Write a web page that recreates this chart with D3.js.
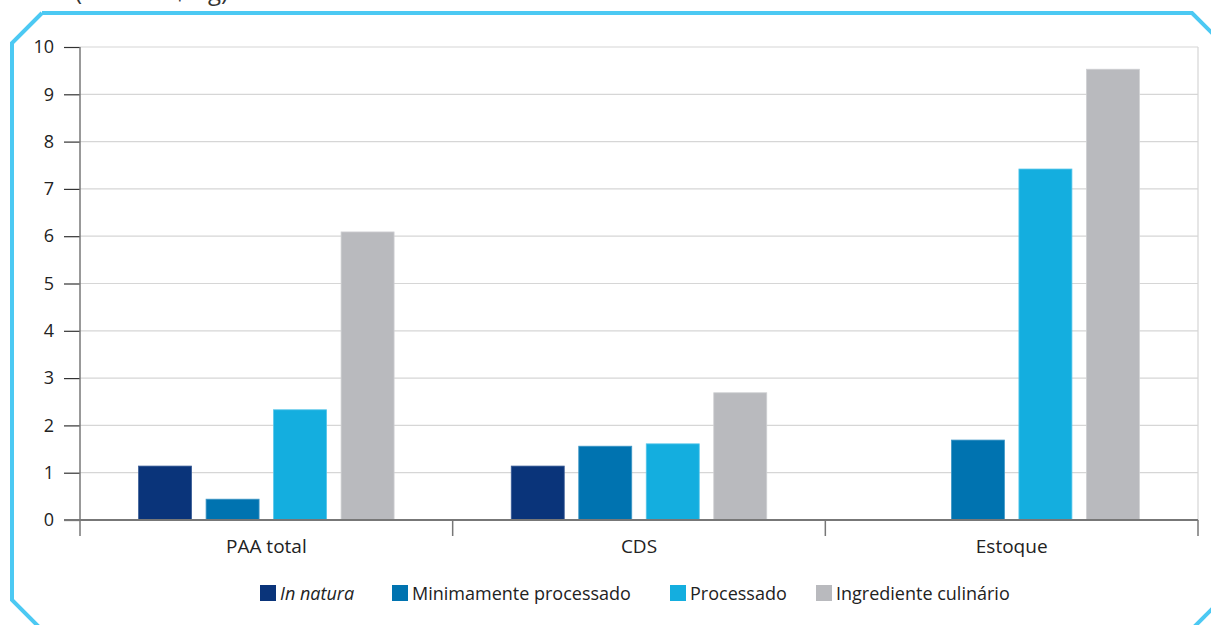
<!DOCTYPE html>
<html><head><meta charset="utf-8">
<script src="https://cdn.jsdelivr.net/npm/d3@7"></script>
<style>
html,body{margin:0;padding:0;background:#fff;}
svg{display:block;font-family:"Open Sans","Noto Sans",sans-serif;}
</style></head>
<body>
<svg id="c" width="1211" height="625"></svg>
<script>
const categories = ["PAA total", "CDS", "Estoque"];
const seriesNames = ["In natura", "Minimamente processado", "Processado", "Ingrediente culinário"];
const inNatura = [1.14, 1.14, null];
const minimamente = [0.44, 1.56, 1.69];
const processado = [2.33, 1.61, 7.42];
const ingrediente = [6.09, 2.69, 9.53];
const yTicks = [0, 1, 2, 3, 4, 5, 6, 7, 8, 9, 10];
const colors = ["#0a347a", "#0073b0", "#14aedf", "#b9babe"];
const strokes = ["#3a5c96", "#3f97c6", "#56c6ea", "#cfd0d3"];
const seriesValues = [inNatura, minimamente, processado, ingrediente];

(function(){
const svg = d3.select("#c");

// frame
svg.append("polyline").attr("points", [[42,13],[1192,13],[1213,34]].map(p=>p.join(",")).join(" "))
  .attr("fill","none").attr("stroke","#4cc9f3").attr("stroke-width",4);
svg.append("polyline").attr("points", [[42,13],[12,43],[12,600],[40,628]].map(p=>p.join(",")).join(" "))
  .attr("fill","none").attr("stroke","#4cc9f3").attr("stroke-width",4).attr("stroke-linejoin","miter");
svg.append("line").attr("x1",1193).attr("y1",628).attr("x2",1214).attr("y2",607)
  .attr("stroke","#4cc9f3").attr("stroke-width",4);

// cropped title (cut off at the top edge, as in the source image)
svg.append("text").attr("x",75).attr("y",0).attr("font-size",24).attr("fill","#333")
  .text("(média R$/kg)");

const pL = 80, pR = 1198, pT = 47, pB = 520;
const y = d3.scaleLinear().domain([0,10]).range([pB, pT]);
const x0 = d3.scaleBand().domain(categories).range([pL, pR]).padding(0);
const x1 = d3.scaleBand().domain(seriesNames).range([0, x0.bandwidth()])
  .paddingInner(0.215).paddingOuter(0.868);

// grid
svg.append("g").selectAll("line").data(yTicks.filter(d=>d>0)).join("line")
  .attr("x1",pL).attr("x2",pR).attr("y1",d=>y(d)).attr("y2",d=>y(d))
  .attr("stroke","#d6d6d6").attr("stroke-width",1.2);
svg.append("line").attr("x1",pR).attr("x2",pR).attr("y1",pT).attr("y2",pB)
  .attr("stroke","#d6d6d6").attr("stroke-width",1.2);

// bars
const data = [];
categories.forEach((c,i)=>seriesNames.forEach((s,j)=>{
  const v = seriesValues[j][i];
  if (v !== null) data.push({c, s, v, j});
}));
svg.append("g").selectAll("rect").data(data).join("rect")
  .attr("x", d=>x0(d.c)+x1(d.s)).attr("width", x1.bandwidth())
  .attr("y", d=>y(d.v)).attr("height", d=>y(0)-y(d.v))
  .attr("fill", d=>colors[d.j]).attr("stroke", d=>strokes[d.j]).attr("stroke-width",0.8);

// y axis
const yAxis = d3.axisLeft(y).tickValues(yTicks).tickSize(16).tickPadding(10).tickFormat(d3.format("d"));
const gy = svg.append("g").attr("transform",`translate(${pL},0)`).call(yAxis);
gy.select(".domain").remove();
gy.selectAll(".tick line").attr("stroke","#333").attr("stroke-width",1.2);
gy.selectAll(".tick text").attr("font-size",18).attr("fill","#222").attr("font-family","'Open Sans',sans-serif");
svg.append("line").attr("x1",pL).attr("x2",pL).attr("y1",pT).attr("y2",536)
  .attr("stroke","#777").attr("stroke-width",1.5);

// x axis
const xAxis = d3.axisBottom(x0).tickSize(0).tickPadding(20);
const gx = svg.append("g").attr("transform",`translate(0,${pB})`).call(xAxis);
gx.select(".domain").remove();
gx.selectAll(".tick text").attr("font-size",19).attr("fill","#222").attr("font-family","'Open Sans',sans-serif");
svg.append("line").attr("x1",64).attr("x2",pR).attr("y1",pB).attr("y2",pB)
  .attr("stroke","#777").attr("stroke-width",2);
const seps = categories.map(c=>x0(c)).concat([x0(categories[categories.length-1])+x0.bandwidth()]).slice(1);
svg.append("g").selectAll("line").data(seps).join("line")
  .attr("x1",d=>d).attr("x2",d=>d).attr("y1",pB).attr("y2",536)
  .attr("stroke","#777").attr("stroke-width",1.5);

// legend
const legendX = [260, 392, 670, 816];
const lg = svg.append("g");
seriesNames.forEach((s,j)=>{
  lg.append("rect").attr("x",legendX[j]).attr("y",585).attr("width",16).attr("height",16).attr("fill",colors[j]);
  lg.append("text").attr("x",legendX[j]+20).attr("y",600).attr("font-size",18).attr("fill","#222")
    .attr("font-style", j===0 ? "italic" : "normal").text(s);
});
})();
</script>
</body></html>
